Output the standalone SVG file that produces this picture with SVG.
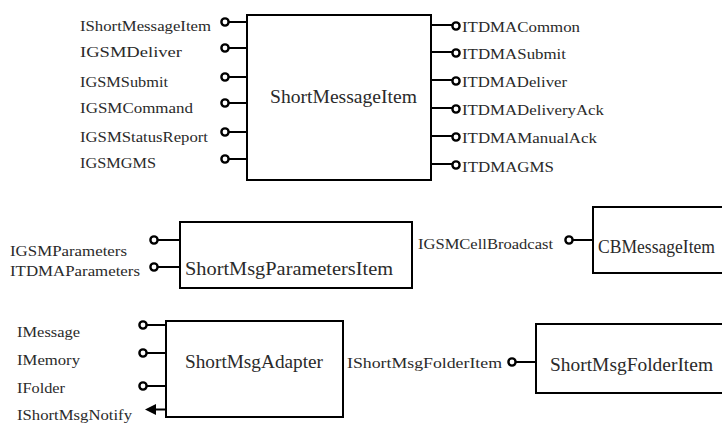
<svg xmlns="http://www.w3.org/2000/svg" width="722" height="424" viewBox="0 0 722 424">
<style>
.box{fill:#fff;stroke:#000;stroke-width:2}
.port{fill:#fff;stroke:#000;stroke-width:2.4}
.stem{stroke:#000;stroke-width:2;fill:none}
.lbl{font-family:"Liberation Serif","Times New Roman",serif;font-size:15px;fill:#2a2a2a}
.name{font-family:"Liberation Serif","Times New Roman",serif;font-size:19px;fill:#2a2a2a}
</style>
<rect width="722" height="424" fill="#fff"/>
<g id="connectors">
<line class="stem" x1="229" y1="22" x2="247" y2="22"/>
<line class="stem" x1="229" y1="48" x2="247" y2="48"/>
<line class="stem" x1="229" y1="77" x2="247" y2="77"/>
<line class="stem" x1="229" y1="103" x2="247" y2="103"/>
<line class="stem" x1="229" y1="132" x2="247" y2="132"/>
<line class="stem" x1="229" y1="159" x2="247" y2="159"/>
<line class="stem" x1="431" y1="25" x2="452" y2="25"/>
<line class="stem" x1="431" y1="52" x2="452" y2="52"/>
<line class="stem" x1="431" y1="80" x2="452" y2="80"/>
<line class="stem" x1="431" y1="108" x2="452" y2="108"/>
<line class="stem" x1="431" y1="136" x2="452" y2="136"/>
<line class="stem" x1="431" y1="164" x2="452" y2="164"/>
<line class="stem" x1="158" y1="240" x2="180" y2="240"/>
<line class="stem" x1="158" y1="267" x2="180" y2="267"/>
<line class="stem" x1="573" y1="240" x2="593" y2="240"/>
<line class="stem" x1="147" y1="325" x2="166" y2="325"/>
<line class="stem" x1="147" y1="353" x2="166" y2="353"/>
<line class="stem" x1="147" y1="386" x2="166" y2="386"/>
<line class="stem" x1="155" y1="409.5" x2="166" y2="409.5"/>
<polygon points="145,409.5 156,404 156,415" fill="#000"/>
<line class="stem" x1="516" y1="362" x2="536" y2="362"/>
</g>
<g id="ShortMessageItem">
<rect class="box" x="247" y="15" width="184" height="165"/>
<text class="name" x="270" y="103" textLength="147" lengthAdjust="spacingAndGlyphs">ShortMessageItem</text>
</g>
<g id="IShortMessageItem"><circle class="port" cx="225" cy="22" r="3.6"/><text class="lbl" x="80" y="31" textLength="131" lengthAdjust="spacingAndGlyphs">IShortMessageItem</text></g>
<g id="IGSMDeliver"><circle class="port" cx="225" cy="48" r="3.6"/><text class="lbl" x="80" y="57" textLength="102" lengthAdjust="spacingAndGlyphs">IGSMDeliver</text></g>
<g id="IGSMSubmit"><circle class="port" cx="225" cy="77" r="3.6"/><text class="lbl" x="80" y="87" textLength="88" lengthAdjust="spacingAndGlyphs">IGSMSubmit</text></g>
<g id="IGSMCommand"><circle class="port" cx="225" cy="103" r="3.6"/><text class="lbl" x="80" y="113" textLength="113" lengthAdjust="spacingAndGlyphs">IGSMCommand</text></g>
<g id="IGSMStatusReport"><circle class="port" cx="225" cy="132" r="3.6"/><text class="lbl" x="80" y="142" textLength="128" lengthAdjust="spacingAndGlyphs">IGSMStatusReport</text></g>
<g id="IGSMGMS"><circle class="port" cx="225" cy="159" r="3.6"/><text class="lbl" x="80" y="168" textLength="76" lengthAdjust="spacingAndGlyphs">IGSMGMS</text></g>
<g id="ITDMACommon"><circle class="port" cx="456" cy="26" r="3.6"/><text class="lbl" x="462" y="32" textLength="118" lengthAdjust="spacingAndGlyphs">ITDMACommon</text></g>
<g id="ITDMASubmit"><circle class="port" cx="456" cy="53" r="3.6"/><text class="lbl" x="462" y="59" textLength="104" lengthAdjust="spacingAndGlyphs">ITDMASubmit</text></g>
<g id="ITDMADeliver"><circle class="port" cx="456" cy="81" r="3.6"/><text class="lbl" x="462" y="87" textLength="105" lengthAdjust="spacingAndGlyphs">ITDMADeliver</text></g>
<g id="ITDMADeliveryAck"><circle class="port" cx="456" cy="109" r="3.6"/><text class="lbl" x="462" y="115" textLength="142" lengthAdjust="spacingAndGlyphs">ITDMADeliveryAck</text></g>
<g id="ITDMAManualAck"><circle class="port" cx="456" cy="137" r="3.6"/><text class="lbl" x="462" y="143" textLength="135" lengthAdjust="spacingAndGlyphs">ITDMAManualAck</text></g>
<g id="ITDMAGMS"><circle class="port" cx="456" cy="165" r="3.6"/><text class="lbl" x="462" y="172" textLength="92" lengthAdjust="spacingAndGlyphs">ITDMAGMS</text></g>
<g id="ShortMsgParametersItem">
<rect class="box" x="180" y="222" width="232" height="66"/>
<text class="name" x="185" y="275" textLength="208" lengthAdjust="spacingAndGlyphs">ShortMsgParametersItem</text>
</g>
<g id="IGSMParameters"><circle class="port" cx="154" cy="240" r="3.6"/><text class="lbl" x="10" y="256" textLength="117" lengthAdjust="spacingAndGlyphs">IGSMParameters</text></g>
<g id="ITDMAParameters"><circle class="port" cx="154" cy="267" r="3.6"/><text class="lbl" x="10" y="276" textLength="130" lengthAdjust="spacingAndGlyphs">ITDMAParameters</text></g>
<g id="CBMessageItem">
<rect class="box" x="593" y="207" width="140" height="66"/>
<text class="name" x="598" y="253" style="font-size:18px" textLength="117" lengthAdjust="spacingAndGlyphs">CBMessageItem</text>
</g>
<g id="IGSMCellBroadcast"><circle class="port" cx="569" cy="240" r="3.6"/><text class="lbl" x="418" y="249" textLength="135" lengthAdjust="spacingAndGlyphs">IGSMCellBroadcast</text></g>
<g id="ShortMsgAdapter">
<rect class="box" x="166" y="321" width="177" height="96"/>
<text class="name" x="185" y="368" textLength="138" lengthAdjust="spacingAndGlyphs">ShortMsgAdapter</text>
</g>
<g id="IMessage"><circle class="port" cx="143" cy="325" r="3.6"/><text class="lbl" x="17" y="337" textLength="63" lengthAdjust="spacingAndGlyphs">IMessage</text></g>
<g id="IMemory"><circle class="port" cx="143" cy="353" r="3.6"/><text class="lbl" x="17" y="365" textLength="63" lengthAdjust="spacingAndGlyphs">IMemory</text></g>
<g id="IFolder"><circle class="port" cx="143" cy="386" r="3.6"/><text class="lbl" x="17" y="393" textLength="48" lengthAdjust="spacingAndGlyphs">IFolder</text></g>
<g id="IShortMsgNotify"><text class="lbl" x="17" y="420" textLength="115" lengthAdjust="spacingAndGlyphs">IShortMsgNotify</text></g>
<g id="ShortMsgFolderItem">
<rect class="box" x="536" y="324" width="200" height="69"/>
<text class="name" x="550" y="371" textLength="163" lengthAdjust="spacingAndGlyphs">ShortMsgFolderItem</text>
</g>
<g id="IShortMsgFolderItem"><circle class="port" cx="512" cy="362" r="3.6"/><text class="lbl" x="347" y="368" textLength="155" lengthAdjust="spacingAndGlyphs">IShortMsgFolderItem</text></g>
</svg>
